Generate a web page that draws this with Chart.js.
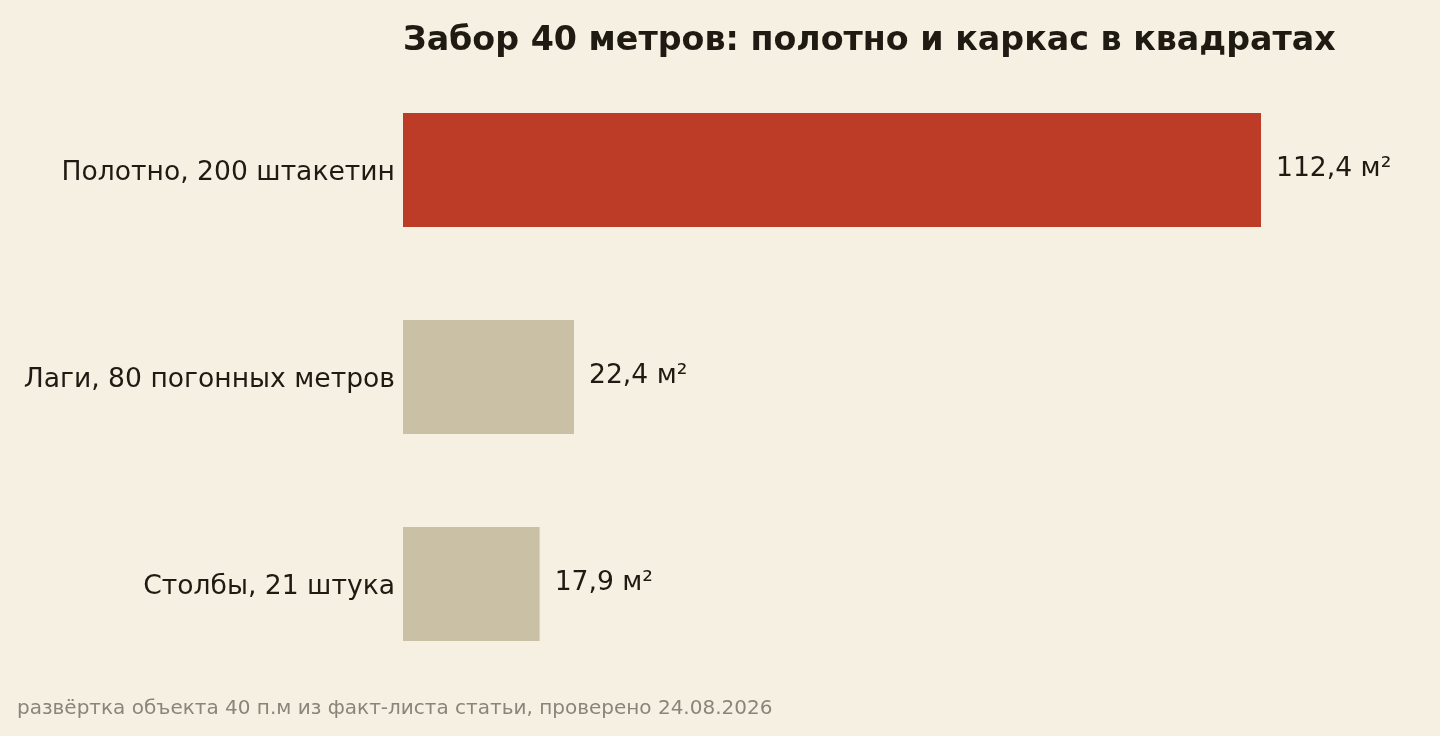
<!DOCTYPE html>
<html>
<head>
<meta charset="utf-8">
<script src="https://cdn.jsdelivr.net/npm/chart.js@4"></script>
<style>
  html, body { margin: 0; padding: 0; background: #f6f0e3; }
  #wrap { width: 1440px; height: 736px; }
</style>
</head>
<body>
<div id="wrap"><canvas id="fenceChart"></canvas></div>
<script>
// Data
const categories = ['Полотно, 200 штакетин', 'Лаги, 80 погонных метров', 'Столбы, 21 штука'];
const areas = [112.4, 22.4, 17.9];
const valueLabels = ['112,4 м²', '22,4 м²', '17,9 м²'];
const barColors = ['#bc3c27', '#c9c0a6', '#c9c0a6'];

const titleText = 'Забор 40 метров: полотно и каркас в квадратах';
const noteText = 'развёртка объекта 40 п.м из факт-листа статьи, проверено 24.08.2026';

const FONT = '"DejaVu Sans", sans-serif';

// Title, value labels and footnote
const extrasPlugin = {
    id: 'extras',
    afterDatasetsDraw(chart) {
        const ctx = chart.ctx;
        const meta = chart.getDatasetMeta(0);
        ctx.save();
        ctx.fillStyle = '#1f1a12';
        ctx.font = '26.6px ' + FONT;
        ctx.textAlign = 'left';
        ctx.textBaseline = 'middle';
        meta.data.forEach((bar, i) => {
            ctx.fillText(valueLabels[i], bar.x + 15, bar.y - 1);
        });

        ctx.font = 'bold 33.3px ' + FONT;
        ctx.fillText(titleText, chart.chartArea.left, 41);

        ctx.fillStyle = '#8a8578';
        ctx.font = '20px ' + FONT;
        ctx.fillText(noteText, 17, 708.5);
        ctx.restore();
    }
};

const ctx = document.getElementById('fenceChart').getContext('2d');
new Chart(ctx, {
    type: 'bar',
    data: {
        labels: categories,
        datasets: [{
            data: areas,
            backgroundColor: barColors,
            borderWidth: 0,
            barPercentage: 0.551,
            categoryPercentage: 1
        }]
    },
    options: {
        indexAxis: 'y',
        responsive: true,
        maintainAspectRatio: false,
        animation: false,
        layout: {
            padding: { top: 66.5, bottom: 48.5, left: 0, right: 37 }
        },
        plugins: {
            legend: { display: false },
            tooltip: { enabled: false }
        },
        scales: {
            x: {
                display: false,
                min: 0,
                max: 131
            },
            y: {
                grid: { display: false, drawTicks: false },
                border: { display: false },
                ticks: {
                    color: '#1f1a12',
                    font: { family: FONT, size: 26.6 },
                    padding: 8,
                    labelOffset: 3
                },
                afterFit(scale) {
                    scale.width = 403;
                }
            }
        }
    },
    plugins: [extrasPlugin]
});
</script>
</body>
</html>
